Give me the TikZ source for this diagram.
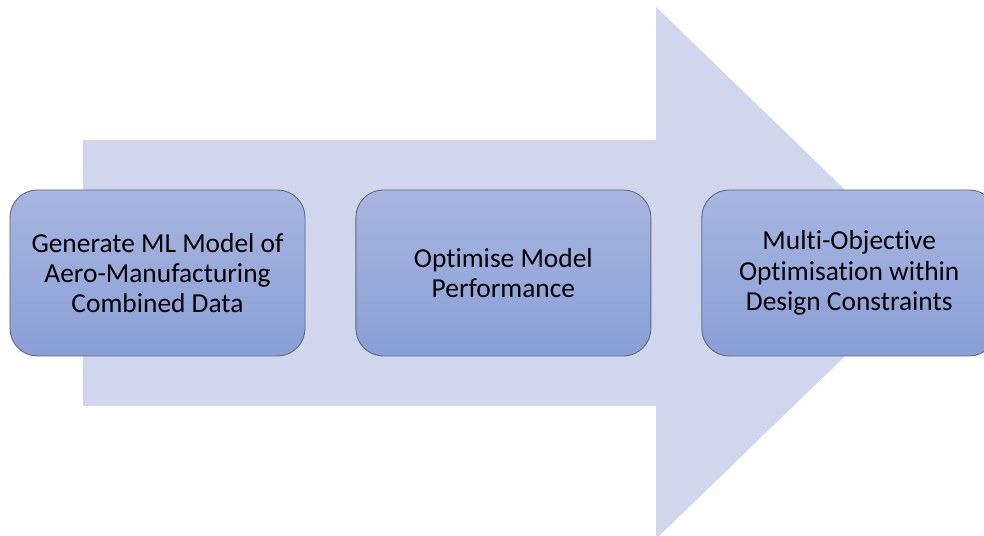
\documentclass[tikz,border=0pt]{standalone}
\usepackage{fontspec}
\setmainfont[Ligatures=NoCommon]{Carlito}
\usepackage{tikz}
\usetikzlibrary{positioning}
\definecolor{arrowfill}{RGB}{208,214,235}
\definecolor{boxtop}{RGB}{168,182,224}
\definecolor{boxbottom}{RGB}{137,159,214}
\definecolor{boxline}{RGB}{96,104,128}
\tikzset{
  stagebox/.style = {
    rectangle,
    draw=boxline,
    line width=0.5pt,
    top color=boxtop,
    bottom color=boxbottom,
    align=center,
    rounded corners=5.5mm,
    minimum width=59mm,
    minimum height=33.2mm,
    font=\fontsize{15.6}{17.2}\selectfont
  },
  bigarrow/.style = {
    fill=arrowfill,
    draw=none
  }
}

\begin{document}
\begin{tikzpicture}[node distance=10mm]
    \clip (0,0) rectangle (19.68,10.72);
    % process arrow behind the stages
    \fill[bigarrow] (1.66,2.6) -- (1.66,7.92) -- (13.12,7.92) -- (13.12,10.58)
      -- (18.62,5.26) -- (13.12,-0.06) -- (13.12,2.6) -- cycle;
    \node[stagebox] (generate) at (3.15,5.26) {Generate ML Model of\\Aero-Manufacturing\\Combined Data};
    \node[stagebox, right=of generate] (optimise) {Optimise Model\\Performance};
    \node[stagebox, right=of optimise] (multiobj) {Multi-Objective\\Optimisation within\\Design Constraints};
  \end{tikzpicture}
\end{document}
